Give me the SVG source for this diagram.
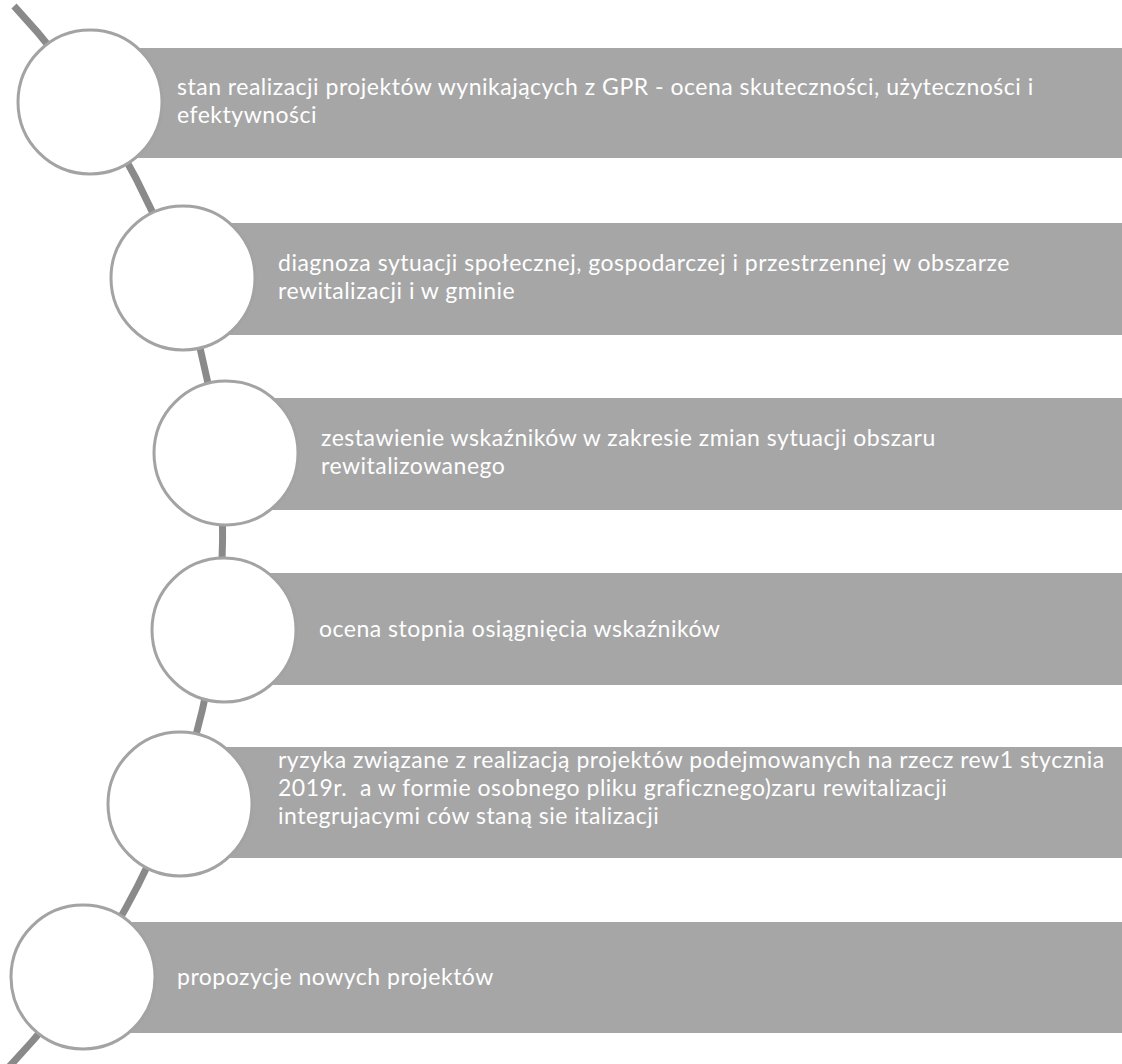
<svg xmlns="http://www.w3.org/2000/svg" width="1122" height="1064" viewBox="0 0 1122 1064">
  <style>
    .bar { fill: #a6a6a6; }
    .circ { fill: #ffffff; stroke: #a3a3a3; stroke-width: 3; }
    .conn { fill: none; stroke: #8a8a8a; stroke-width: 7; }
    .lbl { font-family: Lato, "Open Sans", "Liberation Sans", sans-serif; font-size: 23px; letter-spacing: 0.5px; fill: #ffffff; }
  </style>
  <rect width="1122" height="1064" fill="#ffffff"/>
  <g id="connectors">
    <path class="conn" d="M 14 6 A 772 772 0 0 1 4 1072"/>
  </g>
  <g id="node1">
    <rect class="bar" x="90" y="48" width="1032" height="110"/>
    <circle class="circ" cx="90" cy="102" r="72"/>
    <text class="lbl" x="177" y="95">stan realizacji projektów wynikających z GPR - ocena skuteczności, użyteczności i</text>
    <text class="lbl" x="177" y="123">efektywności</text>
  </g>
  <g id="node2">
    <rect class="bar" x="183" y="223" width="939" height="112"/>
    <circle class="circ" cx="183" cy="278" r="72"/>
    <text class="lbl" x="278" y="271">diagnoza sytuacji społecznej, gospodarczej i przestrzennej w obszarze</text>
    <text class="lbl" x="278" y="299">rewitalizacji i w gminie</text>
  </g>
  <g id="node3">
    <rect class="bar" x="226" y="398" width="896" height="112"/>
    <circle class="circ" cx="226" cy="453" r="72"/>
    <text class="lbl" x="321" y="446">zestawienie wskaźników w zakresie zmian sytuacji obszaru</text>
    <text class="lbl" x="321" y="474">rewitalizowanego</text>
  </g>
  <g id="node4">
    <rect class="bar" x="224" y="573" width="898" height="112"/>
    <circle class="circ" cx="224" cy="630" r="72"/>
    <text class="lbl" x="319" y="637">ocena stopnia osiągnięcia wskaźników</text>
  </g>
  <g id="node5">
    <rect class="bar" x="180" y="747" width="942" height="111"/>
    <circle class="circ" cx="180" cy="804" r="72"/>
    <text class="lbl" x="278" y="768">ryzyka związane z realizacją projektów podejmowanych na rzecz rew1 stycznia</text>
    <text class="lbl" x="278" y="796" xml:space="preserve">2019r.  a w formie osobnego pliku graficznego)zaru rewitalizacji</text>
    <text class="lbl" x="278" y="824">integrujacymi ców staną sie italizacji</text>
  </g>
  <g id="node6">
    <rect class="bar" x="83" y="922" width="1039" height="111"/>
    <circle class="circ" cx="83" cy="977" r="72"/>
    <text class="lbl" x="177" y="985">propozycje nowych projektów</text>
  </g>
</svg>
